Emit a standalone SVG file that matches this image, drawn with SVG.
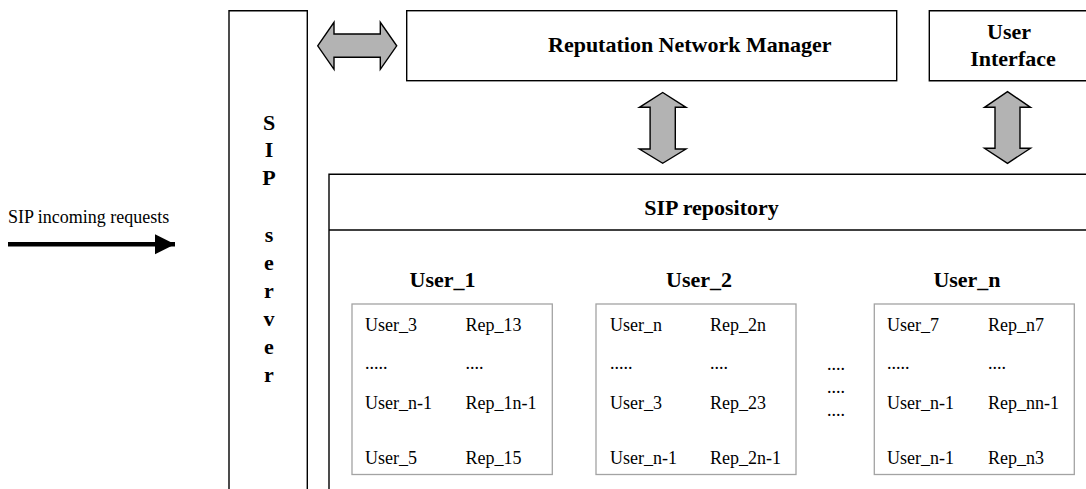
<svg xmlns="http://www.w3.org/2000/svg" width="1086" height="489" viewBox="0 0 1086 489">
  <style>
    .box { fill: #ffffff; stroke: #000000; stroke-width: 1.4; }
    .ubox { fill: #ffffff; stroke: #a3a3a3; stroke-width: 1.3; }
    .rule { stroke: #000000; stroke-width: 1.4; fill: none; }
    .title { font-family: "Liberation Serif", "Times New Roman", serif; font-size: 22px; font-weight: bold; fill: #000000; }
    .body { font-family: "Liberation Serif", "Times New Roman", serif; font-size: 18px; fill: #000000; }
    .block { fill: #b3b3b3; stroke: #000000; stroke-width: 1.4; stroke-linejoin: miter; }
  </style>
  <defs>
    <marker id="solidHead" viewBox="0 0 10 10" refX="10" refY="5" markerWidth="4.5" markerHeight="5.6" markerUnits="strokeWidth" orient="auto">
      <path d="M0,0 L10,5 L0,10 Z" fill="#000000"/>
    </marker>
  </defs>

  <rect width="1086" height="489" fill="#ffffff"/>

  <!-- SIP server column -->
  <g id="sip-server">
    <path class="rule" d="M229,495 L229,10.7 L307.3,10.7 L307.3,495"/>
    <g class="title" text-anchor="middle">
      <text x="269" y="129.5">S</text>
      <text x="269" y="157">I</text>
      <text x="269" y="185">P</text>
      <text x="269" y="242">s</text>
      <text x="269" y="270">e</text>
      <text x="269" y="298">r</text>
      <text x="269" y="325.5">v</text>
      <text x="269" y="354">e</text>
      <text x="269" y="382">r</text>
    </g>
  </g>

  <!-- Reputation Network Manager -->
  <g id="reputation-network-manager">
    <rect class="box" x="406.7" y="10.7" width="490" height="70"/>
    <text class="title" x="548" y="52">Reputation Network Manager</text>
  </g>

  <!-- User Interface (runs past the right edge) -->
  <g id="user-interface">
    <path class="rule" d="M1090,10.7 L929.3,10.7 L929.3,80.7 L1090,80.7"/>
    <g class="title" text-anchor="middle">
      <text x="1009" y="39">User</text>
      <text x="1013" y="66">Interface</text>
    </g>
  </g>

  <!-- SIP repository container -->
  <g id="sip-repository">
    <path class="rule" d="M329,495 L329,174.3 L1090,174.3"/>
    <line class="rule" x1="329" y1="230" x2="1090" y2="230"/>
    <text class="title" x="711.5" y="215" text-anchor="middle">SIP repository</text>
  </g>

  <!-- Per-user reputation tables -->
  <g id="user-1">
    <text class="title" x="442.5" y="287" text-anchor="middle">User_1</text>
    <rect class="ubox" x="352" y="304" width="200.3" height="170.5"/>
    <g class="body">
      <text x="365" y="330.5">User_3</text><text x="465.5" y="330.5">Rep_13</text>
      <text x="365" y="368.5">.....</text><text x="465.5" y="368.5">....</text>
      <text x="365" y="409">User_n-1</text><text x="465.5" y="409">Rep_1n-1</text>
      <text x="365" y="463.5">User_5</text><text x="465.5" y="463.5">Rep_15</text>
    </g>
  </g>

  <g id="user-2">
    <text class="title" x="699" y="287" text-anchor="middle">User_2</text>
    <rect class="ubox" x="596" y="304" width="200" height="170.5"/>
    <g class="body">
      <text x="610" y="330.5">User_n</text><text x="710" y="330.5">Rep_2n</text>
      <text x="610" y="368.5">.....</text><text x="710" y="368.5">....</text>
      <text x="610" y="409">User_3</text><text x="710" y="409">Rep_23</text>
      <text x="610" y="463.5">User_n-1</text><text x="710" y="463.5">Rep_2n-1</text>
    </g>
  </g>

  <g id="user-ellipsis" class="body">
    <text x="827" y="370">....</text>
    <text x="827" y="393">....</text>
    <text x="827" y="416">....</text>
  </g>

  <g id="user-n">
    <text class="title" x="967" y="287" text-anchor="middle">User_n</text>
    <rect class="ubox" x="874.3" y="304" width="200" height="170.5"/>
    <g class="body">
      <text x="887" y="330.5">User_7</text><text x="988" y="330.5">Rep_n7</text>
      <text x="887" y="368.5">.....</text><text x="988" y="368.5">....</text>
      <text x="887" y="409">User_n-1</text><text x="988" y="409">Rep_nn-1</text>
      <text x="887" y="463.5">User_n-1</text><text x="988" y="463.5">Rep_n3</text>
    </g>
  </g>

  <!-- Connectors -->
  <g id="connectors">
    <text class="body" x="8" y="223">SIP incoming requests</text>
    <line x1="8" y1="244.3" x2="175" y2="244.3" stroke="#000000" stroke-width="4.5" marker-end="url(#solidHead)"/>

    <!-- server <-> manager -->
    <path class="block" d="M317.7,45.8 L334,22.3 L334,34 L380.3,34 L380.3,22.3 L396.7,45.8 L380.3,69.3 L380.3,57.3 L334,57.3 L334,69.3 Z"/>
    <!-- manager <-> repository -->
    <path class="block" d="M662.7,92.5 L686,107.3 L675.3,107.3 L675.3,149 L686,149 L662.7,163.3 L639.4,149 L650.1,149 L650.1,107.3 L639.4,107.3 Z"/>
    <!-- user interface <-> repository -->
    <path class="block" d="M1007.5,91.7 L1030.5,107.3 L1020,107.3 L1020,148.3 L1030.5,148.3 L1007.5,163.3 L984.5,148.3 L995,148.3 L995,107.3 L984.5,107.3 Z"/>
  </g>
</svg>
